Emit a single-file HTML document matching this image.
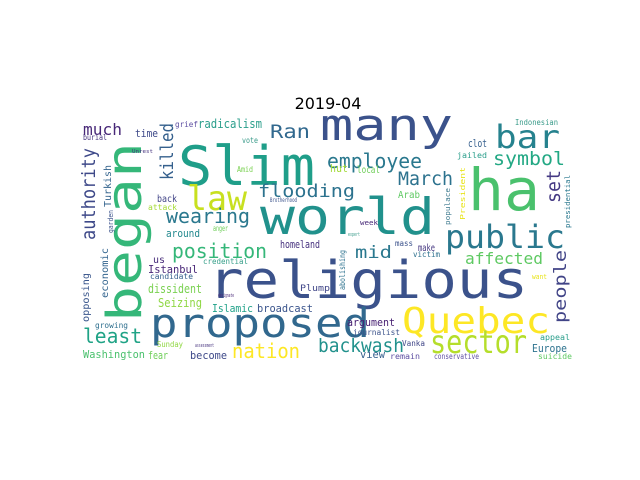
<!DOCTYPE html>
<html><head><meta charset="utf-8"><style>
html,body{margin:0;padding:0;background:#fff;}
svg{display:block;}
text{font-family:"DejaVu Sans Mono","Liberation Mono",monospace;}
</style></head><body>
<svg width="640" height="480" viewBox="0 0 640 480">
<text x="328" y="109" text-anchor="middle" font-size="16" fill="#000" style="font-family:'DejaVu Sans','Liberation Sans',sans-serif">2019-04</text>
<g id="cloud"></g>
</svg>
<script>
// word, x, y, font size, length, color, rotated
const words = ["religious","world","Slim","many","ha","began","proposed","Quebec","sector","bar","public","law","employee","flooding","symbol","March","set","authority","killed","wearing","much","Ran","radicalism","time","grief","burial","vote","Turkish","Amid","back","attack","garden","around","anger","position","homeland","us","Istanbul","credential","candidate","economic","opposing","dissident","Seizing","Islamic","broadcast","growing","least","Washington","Sunday","fear","become","nation","backwash","Plump","mid","affected","make","mass","victim","abolishing","people","want","argument","journalist","Vanka","view","remain","conservative","Europe","appeal","suicide","hut","local","Arab","clot","jailed","Indonesian","President","populace","week","presidential","Brotherhood","Unrest","expert","designate","assessment"];
const xs = [208,260,178,320,468,141,150,402,430,495,445,187,327,258,493,398,560,95,173,166,83,270,198,135,175,83,242,111,237,157,148,113,166,213,172,280,153,148,203,150,108,89,148,158,212,257,95,83,83,157,148,190,232,318,300,355,465,418,395,413,345,566,532,347,353,402,360,390,434,532,540,538,330,357,398,468,457,515,465,450,360,570,270,132,348,218,195];
const ys = [298,234,185,140,210,322,337,333,353,148,248,210,168,197,165,185,203,240,180,223,135,138,128,137,127,140,143,207,172,202,210,233,237,231,258,248,263,273,264,279,298,322,293,307,312,312,328,343,358,347,359,359,358,352,291,258,264,251,246,257,290,323,279,326,335,346,358,359,359,352,340,359,172,173,198,147,158,125,220,225,225,228,202,153,236,297,347];
const sizes = [52,50,54,44,58,48,40,36,32,32,32,34,20,18,19,19,19,19,18,20,16,19,12,11,8,8,8,10,8,10,8,7,11,8,20,11,10,11,8,8,10,10,12,12,11,11,8,20,11,8,11,11,20,19,9,17,16,10,8,8,8,17,7,11,8,8,11,8,8,11,8,8,11,10,10,11,8,8,7,7,7,7,6,5,5,5,5];
const lens = [320,175,137,133,72,180,220,148,97,65,120,60,95,97,72,55,33,92,57,84,39,40,64,23,23,24,16,42,16,20,29,23,34,15,95,40,12,50,45,43,50,49,54,44,41,56,33,59,62,26,20,37,68,86,30,37,78,17,18,27,40,73,15,48,47,23,25,30,45,35,30,34,18,23,22,19,30,43,53,37,18,53,27,21,12,16,19];
const colors = ["#3b528b","#21918c","#1f9e89","#3b528b","#4ac16d","#35b779","#31688e","#fde725","#b5de2b","#26828e","#2a788e","#c8e020","#2a788e","#2c728e","#22a884","#2c728e","#443983","#3e4989","#35608d","#2a788e","#482878","#31688e","#2a9e8b","#3e4989","#5e4fa2","#46337e","#3a9b8a","#33638d","#7ad151","#414487","#a5db36","#3b528b","#23898e","#6ece58","#35b779","#46317e","#472c7a","#482677","#39a08b","#35608d","#32648e","#39568c","#7ad151","#8fd744","#1fa188","#3a548c","#2e6f8e","#20a386","#4ac16d","#90d743","#6ece58","#3e4989","#fde725","#21918c","#404688","#2a788e","#5ec962","#453781","#3b528b","#2d708e","#2c728e","#414487","#e8e419","#482173","#3b528b","#404688","#355f8d","#5e4fa2","#5e4fa2","#2c728e","#2a9e8b","#5ec962","#a2da37","#6ece58","#5ec962","#355f8d","#2a9e8b","#3a9b8a","#e8e419","#3e7a8e","#482878","#2a788e","#3b528b","#46337e","#3a9b8a","#482878","#46337e"];
const rots = [0,0,0,0,0,1,0,0,0,0,0,0,0,0,0,0,1,1,1,0,0,0,0,0,0,0,0,1,0,0,0,1,0,0,0,0,0,0,0,0,1,1,0,0,0,0,0,0,0,0,0,0,0,0,0,0,0,0,0,0,1,1,0,0,0,0,0,0,0,0,0,0,0,0,0,0,0,0,1,1,0,1,0,0,0,0,0];
const g = document.getElementById('cloud');
const NS = 'http://www.w3.org/2000/svg';
for (let i = 0; i < words.length; i++) {
  const t = document.createElementNS(NS, 'text');
  t.setAttribute('x', xs[i]);
  t.setAttribute('y', ys[i]);
  t.setAttribute('font-size', sizes[i]);
  t.setAttribute('fill', colors[i]);
  t.setAttribute('textLength', lens[i]);
  t.setAttribute('lengthAdjust', 'spacingAndGlyphs');
  if (rots[i]) t.setAttribute('transform', 'rotate(-90 ' + xs[i] + ' ' + ys[i] + ')');
  
  
  t.textContent = words[i];
  g.appendChild(t);
}
</script>
</body></html>
